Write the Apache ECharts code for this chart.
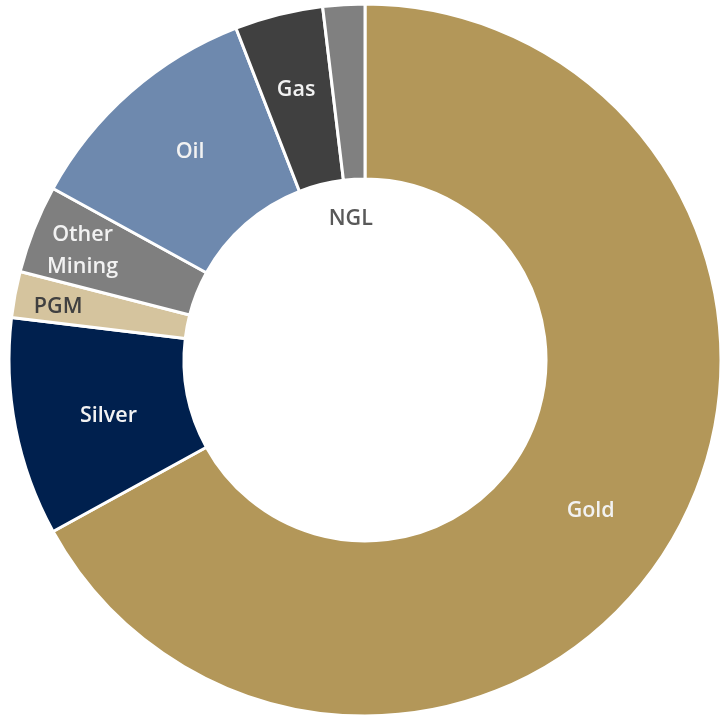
<!DOCTYPE html>
<html>
<head>
<meta charset="utf-8">
<script src="https://cdn.jsdelivr.net/npm/echarts@6/dist/echarts.min.js"></script>
<style>
html, body { margin: 0; padding: 0; background: #fff; }
#main { width: 720px; height: 718px; }
</style>
</head>
<body>
<div id="main"></div>
<script>
var categories = ['Gold', 'Silver', 'PGM', 'Other\nMining', 'Oil', 'Gas', 'NGL'];
var shares = [67.0, 9.9, 2.1, 4.0, 11.1, 4.0, 1.9];
var colors = ['#B39759', '#00204E', '#D5C49E', '#7F7F7F', '#6E89AE', '#404040', '#808080'];
var labelColors = ['#F2F2F2', '#F2F2F2', '#404040', '#F2F2F2', '#F2F2F2', '#F2F2F2', '#595959'];
var labelOffsets = [[-8, 13], [10, 4], [-40, -3], [-30, -9], [4, -4], [-3, -7], [2, 130]];

var data = categories.map(function (c, i) {
    return {
        name: c,
        value: shares[i],
        itemStyle: { color: colors[i] },
        label: { color: labelColors[i], offset: labelOffsets[i] }
    };
});

var option = {
    animation: false,
    series: [{
        type: 'pie',
        center: [365, 360],
        radius: [181, 356],
        startAngle: 90,
        clockwise: true,
        avoidLabelOverlap: false,
        itemStyle: { borderColor: '#fff', borderWidth: 3 },
        label: {
            show: true,
            position: 'inside',
            formatter: '{b}',
            fontFamily: 'Open Sans',
            fontWeight: 600,
            fontSize: 21.5,
            lineHeight: 32
        },
        labelLine: { show: false },
        emphasis: { disabled: true },
        data: data
    }]
};
var myChart = echarts.init(document.getElementById('main'));
myChart.setOption(option);
</script>
</body>
</html>
